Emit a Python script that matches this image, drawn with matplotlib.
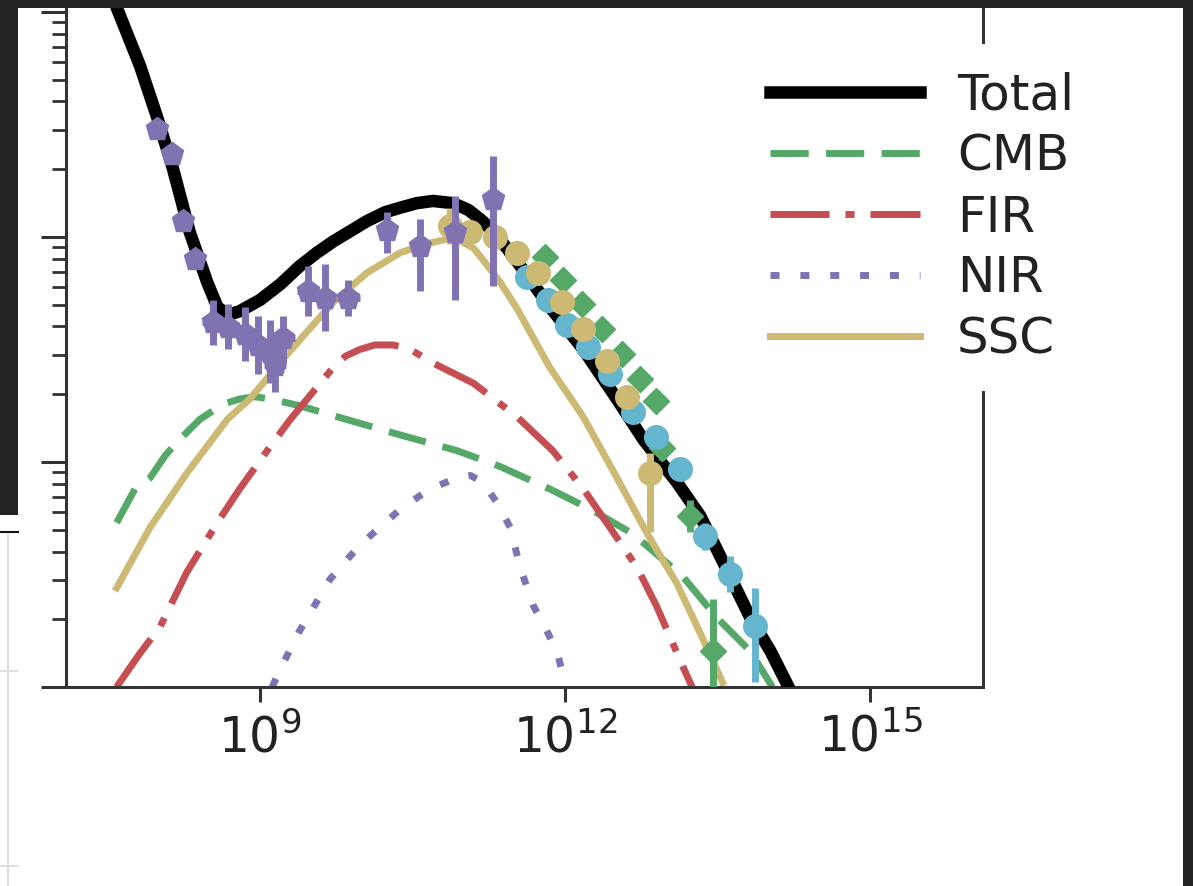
import numpy as np
import matplotlib.pyplot as plt
from matplotlib.patches import Rectangle
from matplotlib.lines import Line2D
from matplotlib.ticker import LogLocator, NullLocator, NullFormatter

BLACK = '#000000'
GREEN = '#55A868'
RED = '#C44E52'
PURPLE = '#8172B2'
GOLD = '#CCB974'
CYAN = '#64B5CD'
DARK = '#222222'

# all values are log10(E / eV) and log10(E^2 dN/dE / erg cm^-2 s^-1)
total_logE = [7.55, 7.59, 7.82, 7.99, 8.14, 8.31, 8.48, 8.58, 8.66, 8.73, 8.80, 9.00,
              9.20, 9.39, 9.56, 9.72, 10.05, 10.23, 10.38, 10.54, 10.70, 10.90, 11.05,
              11.19, 11.36, 11.53, 11.85, 12.18, 12.51, 12.77, 13.10, 13.33, 13.55,
              13.82, 14.02, 14.21]
total_logF = [-8.80, -8.98, -9.24, -9.47, -9.69, -9.98, -10.20, -10.31, -10.34, -10.34,
              -10.33, -10.28, -10.21, -10.13, -10.07, -10.02, -9.93, -9.89, -9.87,
              -9.85, -9.84, -9.85, -9.88, -9.93, -10.01, -10.11, -10.31, -10.50,
              -10.72, -10.90, -11.09, -11.24, -11.44, -11.69, -11.84, -12.01]

cmb_logE = [7.59, 7.77, 7.92, 8.07, 8.21, 8.41, 8.58, 8.66, 8.80, 8.95, 9.10, 9.39,
            9.69, 10.38, 10.94, 11.36, 11.85, 12.25, 12.67, 13.16, 13.49, 13.82, 14.04]
cmb_logF = [-11.27, -11.12, -11.07, -10.97, -10.90, -10.81, -10.76, -10.74, -10.72,
            -10.71, -10.72, -10.75, -10.79, -10.88, -10.95, -11.02, -11.12, -11.21,
            -11.32, -11.51, -11.69, -11.84, -12.00]

fir_logE = [7.59, 7.62, 7.82, 8.02, 8.28, 8.58, 8.80, 9.07, 9.30, 9.72, 9.84, 9.98,
            10.13, 10.31, 10.48, 10.70, 11.10, 11.53, 11.88, 12.18, 12.44, 12.71,
            12.90, 13.16, 13.25]
fir_logF = [-12.00, -11.98, -11.85, -11.73, -11.49, -11.27, -11.12, -10.95, -10.81,
            -10.58, -10.53, -10.50, -10.48, -10.48, -10.50, -10.56, -10.65, -10.80,
            -10.95, -11.12, -11.29, -11.47, -11.64, -11.91, -12.00]

nir_logE = [9.12, 9.20, 9.39, 9.69, 9.98, 10.38, 10.67, 10.94, 11.07, 11.19, 11.33,
            11.46, 11.56, 11.69, 11.82, 11.92, 12.01]
nir_logF = [-12.00, -11.92, -11.75, -11.52, -11.37, -11.21, -11.12, -11.07, -11.06,
            -11.09, -11.18, -11.29, -11.47, -11.64, -11.75, -11.84, -12.00]

ssc_logE = [7.59, 7.92, 8.28, 8.68, 8.90, 9.27, 9.72, 10.05, 10.38, 10.64, 10.84,
            10.92, 11.02, 11.10, 11.19, 11.36, 11.53, 11.85, 12.18, 12.51, 12.81,
            13.10, 13.36, 13.55]
ssc_logF = [-11.56, -11.29, -11.05, -10.81, -10.72, -10.52, -10.29, -10.16, -10.07,
            -10.03, -10.01, -10.01, -10.03, -10.05, -10.10, -10.20, -10.32, -10.58,
            -10.80, -11.07, -11.32, -11.54, -11.79, -11.98]

# Fermi-LAT (purple)
lat_logE = [7.99, 8.13, 8.24, 8.36, 8.54, 8.69, 8.85, 8.98, 9.10, 9.23, 9.15, 9.47,
            9.64, 9.87, 10.25, 10.57, 10.92, 11.29]
lat_logF = [-9.52, -9.63, -9.93, -10.10, -10.38, -10.40, -10.43, -10.48, -10.51,
            -10.45, -10.57, -10.24, -10.27, -10.27, -9.97, -10.04, -9.98, -9.83]
lat_err_lo = [0.02, 0.02, 0.02, 0.02, 0.10, 0.10, 0.12, 0.13, 0.14, 0.10, 0.12, 0.11,
              0.15, 0.08, 0.10, 0.20, 0.30, 0.39]
lat_err_hi = [0.02, 0.02, 0.02, 0.02, 0.10, 0.10, 0.12, 0.13, 0.14, 0.10, 0.12, 0.11,
              0.15, 0.08, 0.08, 0.12, 0.16, 0.19]
lat_xerr = [0.0, 0.0, 0.0, 0.0, 0.11, 0.11, 0.11, 0.11, 0.11, 0.11, 0.11, 0.11,
            0.11, 0.11, 0.0, 0.0, 0.0, 0.0]

# MAGIC (gold)
magic_logE = [10.87, 11.07, 11.31, 11.53, 11.73, 11.97, 12.18, 12.41, 12.61, 12.84]
magic_logF = [-9.95, -9.98, -10.00, -10.07, -10.16, -10.29, -10.41, -10.55, -10.71, -11.05]
magic_err_lo = [0.08, 0.03, 0.03, 0.03, 0.03, 0.03, 0.03, 0.03, 0.04, 0.26]
magic_err_hi = [0.08, 0.03, 0.03, 0.03, 0.03, 0.03, 0.03, 0.03, 0.04, 0.09]

# H.E.S.S. (cyan)
hess_logE = [11.63, 11.83, 12.02, 12.23, 12.44, 12.67, 12.89, 13.13, 13.38, 13.62, 13.87]
hess_logF = [-10.18, -10.28, -10.39, -10.49, -10.61, -10.78, -10.89, -11.03, -11.33,
             -11.50, -11.73]
hess_err_lo = [0.02, 0.02, 0.02, 0.02, 0.02, 0.03, 0.03, 0.04, 0.06, 0.08, 0.25]
hess_err_hi = [0.02, 0.02, 0.02, 0.02, 0.02, 0.03, 0.03, 0.04, 0.06, 0.08, 0.17]

# HEGRA (green)
hegra_logE = [11.80, 11.98, 12.17, 12.36, 12.56, 12.74, 12.89, 12.95, 13.23, 13.46]
hegra_logF = [-10.09, -10.19, -10.30, -10.41, -10.52, -10.63, -10.73, -10.94, -11.24,
              -11.84]
hegra_err_lo = [0.02, 0.02, 0.02, 0.03, 0.03, 0.03, 0.04, 0.05, 0.07, 0.25]
hegra_err_hi = [0.02, 0.02, 0.02, 0.03, 0.03, 0.03, 0.04, 0.05, 0.07, 0.23]


def lin(vals):
    return 10 ** np.asarray(vals, dtype=float)


def data_points(ax, logE, logF, lo, hi, color, marker, ms, xerr=None, z=6):
    x = lin(logE)
    y = lin(logF)
    yerr = [y - lin(np.asarray(logF) - np.asarray(lo)),
            lin(np.asarray(logF) + np.asarray(hi)) - y]
    xe = None
    if xerr is not None:
        xe = [x - lin(np.asarray(logE) - np.asarray(xerr)),
              lin(np.asarray(logE) + np.asarray(xerr)) - x]
    ax.errorbar(x, y, yerr=yerr, xerr=xe, fmt=marker, color=color, ms=ms,
                mec=color, elinewidth=5, capsize=0, zorder=z)


def main():
    fig = plt.figure(figsize=(11.93, 8.86), dpi=100, facecolor='white')
    ax = fig.add_axes([66 / 1193, 199 / 886, 917 / 1193, 687 / 886])
    ax.set_xscale('log')
    ax.set_yscale('log')

    ax.plot(lin(total_logE), lin(total_logF), color=BLACK, lw=9, label='Total',
            zorder=3, solid_joinstyle='round')
    ax.plot(lin(cmb_logE), lin(cmb_logF), color=GREEN, lw=5, dashes=(5.5, 2.5),
            label='CMB', zorder=2)
    ax.plot(lin(fir_logE), lin(fir_logF), color=RED, lw=5,
            dashes=(8.5, 2.3, 1.3, 2.3), label='FIR', zorder=2)
    ax.plot(lin(nir_logE), lin(nir_logF), color=PURPLE, lw=5, dashes=(1.3, 3.0),
            label='NIR', zorder=2)
    ax.plot(lin(ssc_logE), lin(ssc_logF), color=GOLD, lw=5, label='SSC', zorder=2,
            solid_joinstyle='round')

    data_points(ax, hegra_logE, hegra_logF, hegra_err_lo, hegra_err_hi, GREEN, 'D', 13, z=5)
    data_points(ax, hess_logE, hess_logF, hess_err_lo, hess_err_hi, CYAN, 'o', 17, z=6)
    data_points(ax, magic_logE, magic_logF, magic_err_lo, magic_err_hi, GOLD, 'o', 17, z=7)
    data_points(ax, lat_logE, lat_logF, lat_err_lo, lat_err_hi, PURPLE, 'p', 17,
                xerr=lat_xerr, z=8)

    ax.set_xlim(10 ** 7.092, 10 ** 16.111)
    ax.set_ylim(1e-12, 10 ** -8.947)
    ax.set_xticks([1e9, 1e12, 1e15])
    ax.xaxis.set_minor_locator(NullLocator())
    ax.yaxis.set_major_locator(LogLocator(base=10))
    ax.yaxis.set_minor_locator(LogLocator(base=10, subs=np.arange(2, 10)))
    ax.yaxis.set_major_formatter(NullFormatter())
    ax.yaxis.set_minor_formatter(NullFormatter())

    ax.tick_params(axis='y', which='major', length=18, width=2.2, color='#333333')
    ax.tick_params(axis='y', which='minor', length=10, width=2.0, color='#333333')
    ax.tick_params(axis='x', which='major', length=11, width=2.2, color='#333333',
                   labelsize=35, pad=8, labelcolor='#222222')
    for s in ax.spines.values():
        s.set_linewidth(2.2)
        s.set_color('#333333')

    leg = ax.legend(loc='upper left', bbox_to_anchor=(742 / 1193, 1 - 44 / 886),
                    bbox_transform=fig.transFigure, fontsize=36, frameon=True,
                    handlelength=3.0, handletextpad=0.75, labelspacing=0.26,
                    borderpad=0.55, borderaxespad=0, labelcolor='#222222')
    leg.get_frame().set_edgecolor('none')
    leg.get_frame().set_facecolor('white')
    leg.get_frame().set_alpha(1)
    leg.set_zorder(20)

    # screenshot surroundings
    def fig_rect(x0, y0, w, h, color):
        fig.add_artist(Rectangle((x0 / 1193, 1 - (y0 + h) / 886), w / 1193, h / 886,
                                 transform=fig.transFigure, facecolor=color,
                                 edgecolor='none', zorder=30))

    fig_rect(0, 0, 1193, 8, DARK)
    fig_rect(0, 0, 18, 515, DARK)
    fig_rect(1183, 0, 10, 886, DARK)
    fig.add_artist(Line2D([0, 18 / 1193], [1 - 532 / 886] * 2, color='#111111', lw=1.5,
                          transform=fig.transFigure, zorder=30))
    fig.add_artist(Line2D([8 / 1193] * 2, [0, 1 - 535 / 886], color='#dddddd', lw=1.5,
                          transform=fig.transFigure, zorder=30))
    for ty in (671, 866):
        fig.add_artist(Line2D([0, 18 / 1193], [1 - ty / 886] * 2, color='#dddddd',
                              lw=1.2, transform=fig.transFigure, zorder=30))

    fig.savefig('out.png', dpi=100, facecolor='white')


if __name__ == '__main__':
    main()
